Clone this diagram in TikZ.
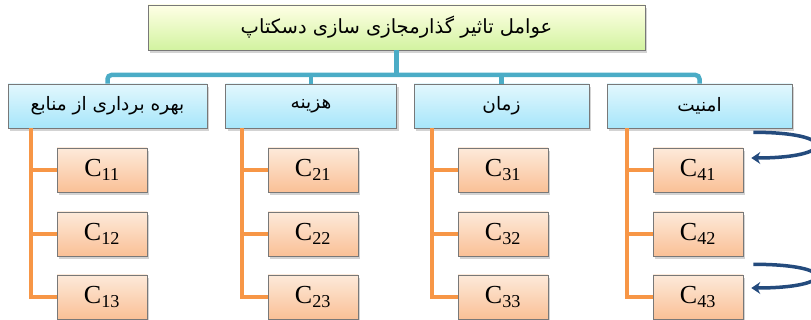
\documentclass[tikz,border=0pt]{standalone}
\usepackage{fontspec}
\setmainfont{Liberation Serif}
\newfontfamily\persianfont[Script=Arabic]{DejaVu Sans}
\TeXXeTstate=1
\usepackage{xcolor}
\usepackage{tikz}
\usetikzlibrary{arrows.meta,shapes,positioning,shadows}
\definecolor{busblue}{RGB}{75, 172, 198}
\definecolor{branchorange}{RGB}{247, 150, 70}
\definecolor{swirlblue}{RGB}{36, 75, 125}
\definecolor{boxgrey}{RGB}{120, 120, 120}

\tikzset{
    titlebox/.style={draw=boxgrey, thick, top color=green!2!yellow!10, bottom color={rgb,255:red,210;green,243;blue,160},
        minimum width=497pt, minimum height=45pt, inner sep=0pt,
        font=\persianfont\fontsize{19.5}{22}\selectfont,
        drop shadow={shadow xshift=2pt, shadow yshift=-3pt, opacity=0.35}},
    catbox/.style={draw=boxgrey, semithick, top color={rgb,255:red,226;green,247;blue,253}, bottom color={rgb,255:red,167;green,230;blue,250},
        minimum height=44pt, inner sep=0pt,
        font=\persianfont\fontsize{18.5}{20}\selectfont,
        drop shadow={shadow xshift=2pt, shadow yshift=-3pt, opacity=0.35}},
    critbox/.style={draw=boxgrey, semithick, top color={rgb,255:red,253;green,234;blue,218}, bottom color={rgb,255:red,250;green,192;blue,150},
        minimum width=90pt, minimum height=44pt, inner sep=0pt,
        font=\fontsize{26}{28}\selectfont,
        drop shadow={shadow xshift=2pt, shadow yshift=-3pt, opacity=0.35}},
    busline/.style={busblue, line width=4.5pt},
    branchline/.style={branchorange, line width=4pt},
    swirl/.style={swirlblue, line width=3.5pt, -{Stealth[length=9pt, width=12pt]}}
}

\begin{document}
\begin{tikzpicture}[x=1pt, y=-1pt]
            \useasboundingbox (0,0) rectangle (811,320);

            % Main goal
            \node[titlebox] (goal) at (396.5,27.5)
                {\raisebox{-4pt}{\beginR عوامل تاثیر گذارمجازی سازی دسکتاپ\endR}};

            % Factors
            \node[catbox, minimum width=199pt] (cat1) at (107.5,106) {\raisebox{-2pt}{\beginR بهره برداری از منابع\endR}};
            \node[catbox, minimum width=171pt] (cat2) at (311,106) {\raisebox{-2pt}{\beginR هزینه\endR}};
            \node[catbox, minimum width=175pt] (cat3) at (501.5,106) {\raisebox{-2pt}{\beginR زمان\endR}};
            \node[catbox, minimum width=185pt] (cat4) at (699.5,106) {\raisebox{-2pt}{\beginR امنیت\endR}};

            % Criteria
            \foreach \i/\x in {1/102, 2/313, 3/503, 4/698} {
                \foreach \j/\y in {1/170, 2/234, 3/297} {
                    \node[critbox] (c\i\j) at (\x,\y) {C\textsubscript{\i\j}};
                }
            }

            % Blue bus
            \coordinate (bus) at (0,75);
            \draw[busline] (goal.south) -- (goal.south |- bus);
            \draw[busline, rounded corners=4pt] (cat1.north) -- (cat1.north |- bus) -- (cat4.north |- bus) -- (cat4.north);
            \draw[busline] (cat2.north) -- (cat2.north |- bus);
            \draw[busline] (cat3.north) -- (cat3.north |- bus);

            % Orange branches
            \foreach \i in {1,...,4} {
                \path ([xshift=-26pt]c\i1.west) coordinate (v\i);
                \draw[branchline] (v\i |- cat\i.south) |- (c\i3.west);
                \foreach \j in {1,2} {
                    \draw[branchline] (v\i |- c\i\j.west) -- (c\i\j.west);
                }
            }

            % Curved arrows
            \coordinate (s1) at ([xshift=-39pt, yshift=-4pt]cat4.south east);
            \coordinate (t1) at ([xshift=8pt, yshift=12pt]c41.east);
            \coordinate (s2) at ([xshift=10pt, yshift=-8pt]c42.south east);
            \coordinate (t2) at ([xshift=8pt, yshift=9pt]c43.east);
            \draw[swirl] (s1) .. controls +(85,0) and +(85,0) .. (t1);
            \draw[swirl] (s2) .. controls +(85,0) and +(85,0) .. (t2);
        \end{tikzpicture}
\end{document}
